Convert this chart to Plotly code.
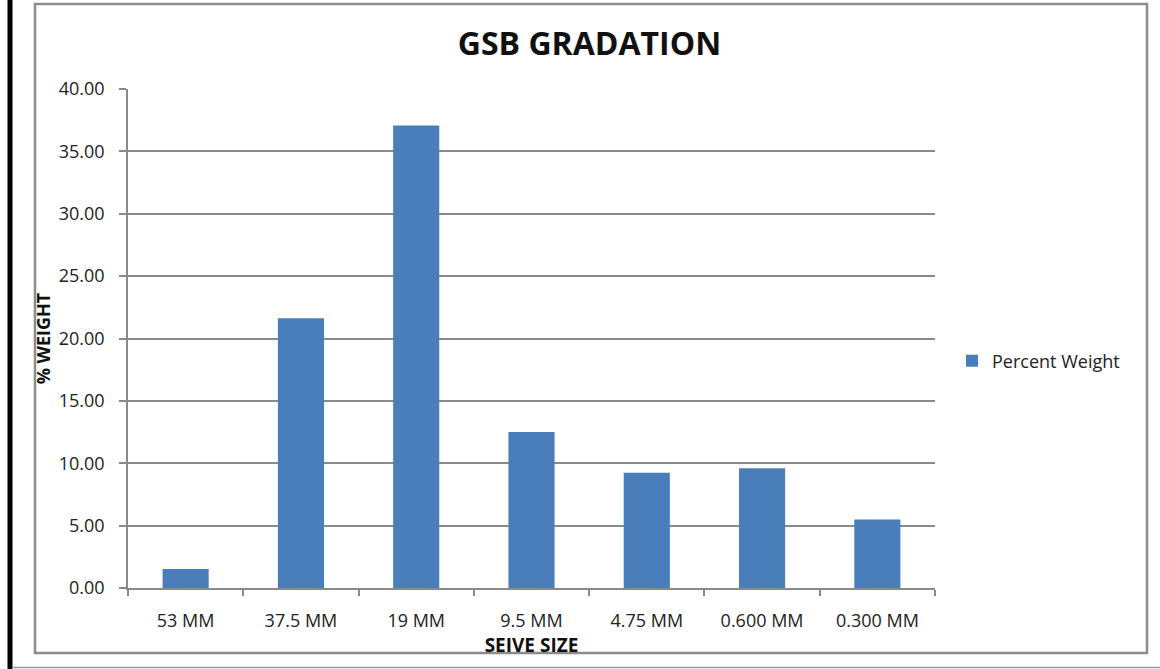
import plotly.graph_objects as go

categories = ["53 MM", "37.5 MM", "19 MM", "9.5 MM", "4.75 MM", "0.600 MM", "0.300 MM"]
percent_weight = [1.52, 21.63, 37.07, 12.50, 9.24, 9.60, 5.50]
y_ticks = [0, 5, 10, 15, 20, 25, 30, 35, 40]

W_PX, H_PX = 1160, 669
L, R, T, B = 128, 225, 89, 81
PW = W_PX - L - R
PH = H_PX - T - B


def px(x):
    return (x - L) / PW


def py(y):
    return (H_PX - B - y) / PH


FONT = "Open Sans, Lato, DejaVu Sans, sans-serif"
GRID = "#8a8a8a"
TXT = "#222222"

fig = go.Figure()
fig.add_trace(go.Bar(
    x=categories,
    y=percent_weight,
    name="Percent Weight",
    marker=dict(color="#4a7ebb", line=dict(width=0)),
    showlegend=True,
))

fig.update_layout(
    width=W_PX,
    height=H_PX,
    margin=dict(l=L, r=R, t=T, b=B, pad=0),
    paper_bgcolor="white",
    plot_bgcolor="white",
    font=dict(family=FONT, size=18, color=TXT),
    bargap=0.6,
    title=dict(
        text="<b>GSB GRADATION</b>",
        font=dict(family=FONT, size=32, color="#111111"),
        x=589.5 / W_PX, xref="container", xanchor="center",
        y=1 - 44 / H_PX, yref="container", yanchor="middle",
    ),
    showlegend=True,
    legend=dict(
        x=px(952), y=py(361), xanchor="left", yanchor="middle",
        xref="paper", yref="paper",
        font=dict(family=FONT, size=18, color=TXT),
        itemwidth=30,
        bgcolor="rgba(0,0,0,0)",
    ),
    xaxis=dict(
        type="category",
        showline=True, linecolor=GRID, linewidth=1.5,
        ticks="outside", tickson="boundaries", ticklen=6, tickcolor=GRID, tickwidth=1.5,
        showgrid=False,
        tickfont=dict(family=FONT, size=18, color=TXT),
        ticklabelstandoff=16,
        title=dict(text="<b>SEIVE SIZE</b>", font=dict(family=FONT, size=19, color="#111111"), standoff=0),
        fixedrange=True,
    ),
    yaxis=dict(
        range=[0, 40],
        tickvals=y_ticks,
        tickformat=".2f",
        showline=True, linecolor=GRID, linewidth=1.5,
        ticks="outside", ticklen=7, tickcolor=GRID, tickwidth=1.5,
        showgrid=True, gridcolor=GRID, gridwidth=1.5,
        zeroline=False,
        tickfont=dict(family=FONT, size=18, color=TXT),
        ticklabelstandoff=11,
        title=dict(text="<b>% WEIGHT</b>", font=dict(family=FONT, size=18, color="#111111"), standoff=3),
        fixedrange=True,
    ),
)

shapes = [
    # thick black bar at the far left
    dict(type="line", xref="paper", yref="paper", x0=px(10), x1=px(10), y0=py(0), y1=py(H_PX),
         line=dict(color="black", width=5)),
    # grey chart border
    dict(type="rect", xref="paper", yref="paper", x0=px(35), x1=px(1147), y0=py(653), y1=py(4),
         line=dict(color="#8c8c8c", width=2.5), fillcolor="rgba(0,0,0,0)", layer="below"),
    # bottom page rule
    dict(type="line", xref="paper", yref="paper", x0=px(12), x1=px(W_PX), y0=py(667.5), y1=py(667.5),
         line=dict(color="#9a9a9a", width=1.5)),
]
fig.update_layout(shapes=shapes)

fig.write_html("out.html")
